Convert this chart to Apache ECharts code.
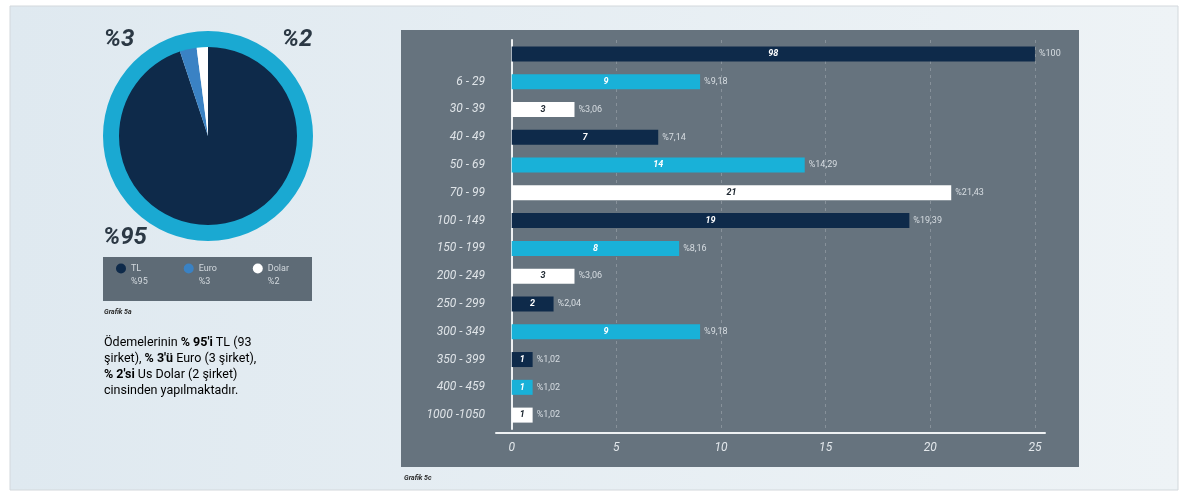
<!DOCTYPE html>
<html>
<head>
<meta charset="utf-8">
<script src="https://cdn.jsdelivr.net/npm/echarts@6/dist/echarts.min.js"></script>
<style>
html,body{margin:0;padding:0;background:#ffffff;}
#c{width:1181px;height:495px;}
</style>
</head>
<body>
<div id="c"></div>
<script>
// ---- data ----
const currencies = ['TL', 'Euro', 'Dolar'];
const currencyCounts = [93, 3, 2];
const currencyPct = ['%95', '%3', '%2'];

const ranges = ['', '6 - 29', '30 - 39', '40 - 49', '50 - 69', '70 - 99', '100 - 149', '150 - 199', '200 - 249', '250 - 299', '300 - 349', '350 - 399', '400 - 459', '1000 -1050'];
const counts = [98, 9, 3, 7, 14, 21, 19, 8, 3, 2, 9, 1, 1, 1];
const shares = ['%100', '%9,18', '%3,06', '%7,14', '%14,29', '%21,43', '%19,39', '%8,16', '%3,06', '%2,04', '%9,18', '%1,02', '%1,02', '%1,02'];
const xTicks = [0, 5, 10, 15, 20, 25];

// ---- styles ----
const NAVY = '#0e2a4a', CYAN = '#19b1d8', WHITE = '#ffffff', EURO = '#3a82c4', RING = '#1aa9d2';
const barColors = [NAVY, CYAN, WHITE, NAVY, CYAN, WHITE, NAVY, CYAN, WHITE, NAVY, CYAN, NAVY, CYAN, WHITE];
const axisCap = 25;

const chart = echarts.init(document.getElementById('c'));

const barData = counts.map((v, i) => ({
  value: Math.min(v, axisCap),
  itemStyle: { color: barColors[i] },
  label: { color: barColors[i] === WHITE ? '#1d2730' : '#ffffff' }
}));
const shareData = counts.map((v, i) => Math.min(v, axisCap));

const pieColors = [NAVY, EURO, WHITE];
const pctFont = 'italic bold 24px Roboto';

const option = {
  animation: false,
  graphic: [
    { type: 'rect', shape: { x: 10, y: 6, width: 1168, height: 484 },
      style: { fill: new echarts.graphic.LinearGradient(0, 0, 1, 0, [{offset: 0, color: '#dfe9f0'}, {offset: 1, color: '#eef3f6'}]), stroke: '#d3d8dc', lineWidth: 1 }, z: -10 },
    { type: 'rect', shape: { x: 401, y: 30, width: 678, height: 437 },
      style: { fill: '#66737e' }, z: -9 },
    { type: 'rect', shape: { x: 103, y: 257, width: 209, height: 44 },
      style: { fill: '#5e6b76' }, z: -9 },
    { type: 'text', x: 119, y: 40, style: { text: currencyPct[1], font: pctFont, fill: '#2b3844', align: 'center', verticalAlign: 'middle' } },
    { type: 'text', x: 297, y: 40, style: { text: currencyPct[2], font: pctFont, fill: '#2b3844', align: 'center', verticalAlign: 'middle' } },
    { type: 'text', x: 125, y: 238, style: { text: currencyPct[0], font: pctFont, fill: '#2b3844', align: 'center', verticalAlign: 'middle' } },
    { type: 'text', x: 104, y: 312, style: { text: 'Grafik 5a', font: 'italic bold 7px Roboto', fill: '#2b2b2b', verticalAlign: 'middle' } },
    { type: 'text', x: 404, y: 478, style: { text: 'Grafik 5c', font: 'italic bold 7px Roboto', fill: '#2b2b2b', verticalAlign: 'middle' } },
    { type: 'text', x: 104, y: 335, style: {
        text: '{n|Ödemelerinin }{b|% 95\'i}{n| TL (93}\n{n|şirket), }{b|% 3\'ü}{n| Euro (3 şirket),}\n{b|% 2\'si}{n| Us Dolar (2 şirket)}\n{n|cinsinden yapılmaktadır.}',
        rich: {
          n: { fontFamily: 'Roboto', fontSize: 12.5, color: '#3a3f44', lineHeight: 16 },
          b: { fontFamily: 'Roboto', fontSize: 12.5, fontWeight: 'bold', color: '#2f3438', lineHeight: 16 }
        }
      } }
  ],
  legend: {
    left: 116, top: 251, padding: 0,
    itemWidth: 10, itemHeight: 10, itemGap: 36,
    icon: 'circle',
    selectedMode: false,
    data: currencies,
    formatter: function (name) {
      const i = currencies.indexOf(name);
      return '{e| }\n{n|' + name + '}\n{p|' + currencyPct[i] + '}';
    },
    textStyle: {
      rich: {
        e: { fontSize: 9, lineHeight: 13 },
        n: { fontFamily: 'Roboto', fontSize: 9, color: '#d3d9de', lineHeight: 13 },
        p: { fontFamily: 'Roboto', fontSize: 9, color: '#d3d9de', lineHeight: 13 }
      }
    }
  },
  grid: { left: 496, right: 1181 - 1045, top: 40, bottom: 495 - 429, containLabel: false },
  xAxis: {
    type: 'value', min: -0.75, max: 25.48, offset: 4,
    axisLine: { show: true, lineStyle: { color: '#eef1f3', width: 2 } },
    axisTick: { show: false, customValues: [5, 10, 15, 20, 25] },
    axisLabel: { customValues: xTicks, color: '#e3e8ec', fontStyle: 'italic', fontFamily: 'Roboto', fontSize: 12, margin: 9 },
    splitLine: { show: true, lineStyle: { color: 'rgba(255,255,255,0.22)', type: [3, 4], width: 1 } }
  },
  yAxis: {
    type: 'category', inverse: true, data: ranges,
    axisLine: { show: true, lineStyle: { color: '#eef1f3', width: 2 } },
    axisTick: { show: false },
    axisLabel: { color: '#dfe4e8', fontStyle: 'italic', fontFamily: 'Roboto', fontSize: 12, margin: 11 }
  },
  series: [
    {
      type: 'pie', name: 'ring', silent: true, center: [208, 136], radius: [88, 105],
      label: { show: false }, labelLine: { show: false },
      data: [{ value: 1, itemStyle: { color: RING } }], z: 1
    },
    {
      type: 'pie', name: 'currency', center: [208, 136], radius: [0, 89], startAngle: 90, clockwise: true,
      label: { show: false }, labelLine: { show: false }, silent: true,
      data: currencies.map((c, i) => ({ name: c, value: currencyCounts[i], itemStyle: { color: pieColors[i] } })),
      z: 2
    },
    {
      type: 'bar', name: 'count', barWidth: 15, data: barData,
      label: { show: true, position: 'inside', fontFamily: 'Roboto', fontStyle: 'italic', fontWeight: 'bold', fontSize: 9,
        formatter: p => String(counts[p.dataIndex]) },
      silent: true
    },
    {
      type: 'bar', name: 'share', barWidth: 15, barGap: '-100%', data: shareData,
      itemStyle: { color: 'rgba(0,0,0,0)' },
      label: { show: true, position: 'right', distance: 4, fontFamily: 'Roboto', fontSize: 9, color: '#d7dde2',
        formatter: p => shares[p.dataIndex] },
      silent: true
    }
  ]
};
chart.setOption(option);
</script>
</body>
</html>
